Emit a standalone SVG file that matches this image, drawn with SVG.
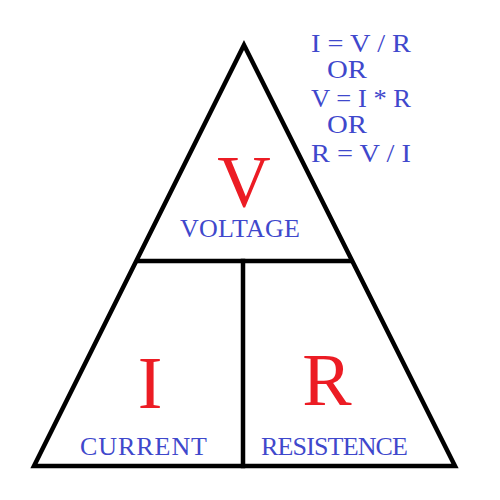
<svg xmlns="http://www.w3.org/2000/svg" width="500" height="500" viewBox="0 0 500 500">
<style>
.ln{fill:none;stroke:#000;stroke-width:4.5;stroke-linejoin:miter;stroke-linecap:square}
.big{font-family:"Liberation Serif",serif;font-size:74px;fill:#ec1c24}
.lbl{font-family:"Liberation Serif",serif;font-size:26px;fill:#3f48cc}
.f{font-family:"Liberation Serif",serif;font-size:25px;fill:#3f48cc}
</style>
<rect width="500" height="500" fill="#fff"/>
<g id="connectors">
<polygon class="ln" points="244,45 34,466 455,466"/>
<line class="ln" x1="138" y1="261" x2="350" y2="261"/>
<line class="ln" x1="243" y1="261" x2="243" y2="466"/>
</g>
<g id="formulas">
<text class="f" x="311" y="52" textLength="100" lengthAdjust="spacingAndGlyphs">I = V / R</text>
<text class="f" x="327" y="78" textLength="40" lengthAdjust="spacingAndGlyphs">OR</text>
<text class="f" x="311" y="107" textLength="100" lengthAdjust="spacingAndGlyphs">V = I * R</text>
<text class="f" x="327" y="133" textLength="40" lengthAdjust="spacingAndGlyphs">OR</text>
<text class="f" x="311" y="162" textLength="100" lengthAdjust="spacingAndGlyphs">R = V / I</text>
</g>
<g id="voltage">
<text class="big" x="244" y="207" text-anchor="middle">V</text>
<text class="lbl" x="180" y="237" textLength="120">VOLTAGE</text>
</g>
<g id="current">
<text class="big" x="150" y="408" text-anchor="middle">I</text>
<text class="lbl" x="80" y="455" textLength="127">CURRENT</text>
</g>
<g id="resistance">
<text class="big" x="327" y="405" text-anchor="middle">R</text>
<text class="lbl" x="261" y="455" textLength="147">RESISTENCE</text>
</g>
</svg>
